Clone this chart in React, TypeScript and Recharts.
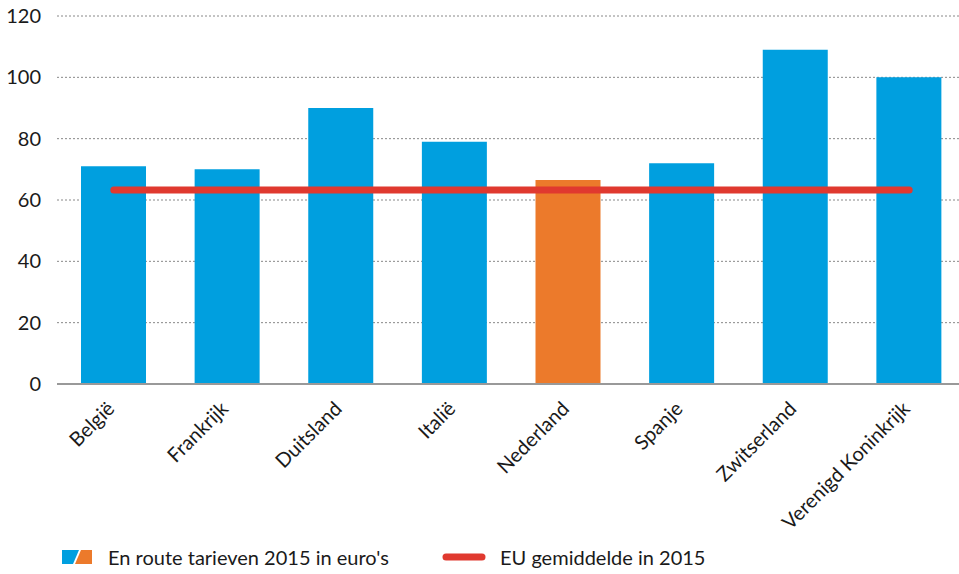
import React from "react";
import { ComposedChart, Bar, Line, XAxis, YAxis, CartesianGrid, Cell, ReferenceLine } from "recharts";

const countries = ["België", "Frankrijk", "Duitsland", "Italië", "Nederland", "Spanje", "Zwitserland", "Verenigd Koninkrijk"];
const tarieven = [71, 70, 90, 79, 66.5, 72, 109, 100];
const euGemiddelde = [63.3, 63.3, 63.3, 63.3, 63.3, 63.3, 63.3, 63.3];
const yTicks = [0, 20, 40, 60, 80, 100, 120];
const highlight = "Nederland";

const BLUE = "#009FDF";
const ORANGE = "#EC7A2B";
const RED = "#E0392F";
const FONT = "Lato, 'Noto Sans', sans-serif";

const data = countries.map((c, i) => ({ name: c, tarief: tarieven[i], eu: euGemiddelde[i] }));

const XTick = (props: any) => {
  const { x, y, payload } = props;
  return (
    <g transform={`translate(${x + 2},${y + 18})`}>
      <text x={0} y={0} textAnchor="end" transform="rotate(-45)" fill="#1a1a1a" fontSize={20} fontFamily={FONT}>
        {payload.value}
      </text>
    </g>
  );
};

export default function App() {
  return (
    <div style={{ position: "absolute", left: 0, top: 0, width: 959, height: 574, overflow: "hidden", background: "#fff" }}>
      <ComposedChart
        width={966}
        height={574}
        data={data}
        margin={{ top: 16, right: 0, bottom: 0, left: 0 }}
      >
        <CartesianGrid vertical={false} stroke="#888" strokeDasharray="2 2" strokeWidth={1} />
        <XAxis
          dataKey="name"
          interval={0}
          height={190}
          tickLine={false}
          axisLine={false}
          tick={<XTick />}
        />
        <YAxis
          domain={[0, 120]}
          ticks={yTicks}
          width={57}
          tickLine={false}
          axisLine={false}
          tickSize={0}
          tickMargin={16}
          tick={{ fill: "#1a1a1a", fontSize: 20, fontFamily: FONT }}
        />
        <ReferenceLine y={0} stroke="#999" strokeWidth={2} />
        <Bar dataKey="tarief" barSize={65} isAnimationActive={false}>
          {data.map((d) => (
            <Cell key={d.name} fill={d.name === highlight ? ORANGE : BLUE} />
          ))}
        </Bar>
        <Line
          dataKey="eu"
          stroke={RED}
          strokeWidth={7}
          strokeLinecap="round"
          dot={false}
          activeDot={false}
          isAnimationActive={false}
        />
      </ComposedChart>
      <div style={{ position: "absolute", left: 62, top: 545, height: 24, display: "flex", alignItems: "center", fontFamily: FONT, fontSize: 20, color: "#1a1a1a", whiteSpace: "nowrap" }}>
        <svg width={30} height={14} style={{ marginRight: 16, flexShrink: 0 }}>
          <polygon points="0,0 17,0 11,14 0,14" fill={BLUE} />
          <polygon points="19,0 30,0 30,14 13,14" fill={ORANGE} />
        </svg>
        <span style={{ width: 334, flexShrink: 0 }}>En route tarieven 2015 in euro's</span>
        <svg width={44} height={8} style={{ marginRight: 14, flexShrink: 0 }}>
          <line x1={4} y1={4} x2={40} y2={4} stroke={RED} strokeWidth={7} strokeLinecap="round" />
        </svg>
        <span>EU gemiddelde in 2015</span>
      </div>
    </div>
  );
}
